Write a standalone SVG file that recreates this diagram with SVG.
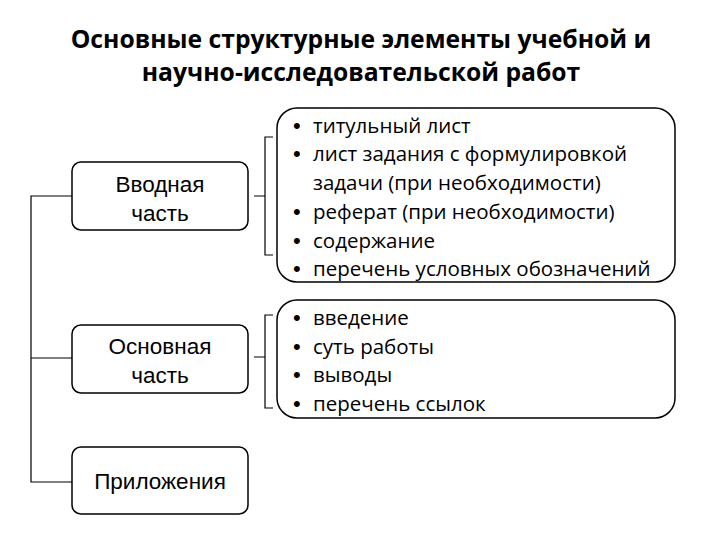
<svg xmlns="http://www.w3.org/2000/svg" width="720" height="540" viewBox="0 0 720 540">
<style>
.box{fill:#fff;stroke:#000;stroke-width:1.5}
.ln{fill:none;stroke:#000;stroke-width:1.2}
.lbl{font-family:"Liberation Sans",Arial,sans-serif;font-size:22.5px;fill:#000;text-anchor:middle}
.it{font-family:"Open Sans","Noto Sans",sans-serif;font-size:20.5px;fill:#000}
.bl{font-family:"Liberation Sans",Arial,sans-serif;font-size:22px;fill:#000}
.ttl{font-family:"Open Sans","Noto Sans",sans-serif;font-size:24.7px;font-weight:bold;fill:#000;text-anchor:middle}
</style>
<rect width="720" height="540" fill="#fff"/>
<g id="title">
<text class="ttl" x="361" y="48">Основные структурные элементы учебной и</text>
<text class="ttl" x="361" y="81">научно-исследовательской работ</text>
</g>
<g id="connectors">
<path class="ln" d="M72,196 H31 V482 H72 M31,358 H72"/>
<path class="ln" d="M254,196 H265 M273,137 H265 V255 H273"/>
<path class="ln" d="M254,357 H265 M273,315 H265 V408 H273"/>
</g>
<g id="vvodnaya">
<rect class="box" x="72" y="162" width="176" height="68" rx="9"/>
<text class="lbl" x="160" y="192">Вводная</text>
<text class="lbl" x="160" y="221">часть</text>
</g>
<g id="osnovnaya">
<rect class="box" x="72" y="325" width="176" height="68" rx="9"/>
<text class="lbl" x="160" y="354">Основная</text>
<text class="lbl" x="160" y="383">часть</text>
</g>
<g id="prilozheniya">
<rect class="box" x="72" y="447" width="176" height="67" rx="9"/>
<text class="lbl" x="160" y="489">Приложения</text>
</g>
<g id="list1">
<rect class="box" x="277" y="108" width="398" height="174" rx="20"/>
<text class="bl" x="293" y="133">•</text><text class="it" x="313" y="133">титульный лист</text>
<text class="bl" x="293" y="161">•</text><text class="it" x="313" y="161">лист задания с формулировкой</text>
<text class="it" x="313" y="190">задачи (при необходимости)</text>
<text class="bl" x="293" y="219">•</text><text class="it" x="313" y="219">реферат (при необходимости)</text>
<text class="bl" x="293" y="248">•</text><text class="it" x="313" y="248">содержание</text>
<text class="bl" x="293" y="276">•</text><text class="it" x="313" y="276">перечень условных обозначений</text>
</g>
<g id="list2">
<rect class="box" x="277" y="300" width="398" height="118" rx="20"/>
<text class="bl" x="293" y="325">•</text><text class="it" x="313" y="325">введение</text>
<text class="bl" x="293" y="354">•</text><text class="it" x="313" y="354">суть работы</text>
<text class="bl" x="293" y="382">•</text><text class="it" x="313" y="382">выводы</text>
<text class="bl" x="293" y="411">•</text><text class="it" x="313" y="411">перечень ссылок</text>
</g>
</svg>
